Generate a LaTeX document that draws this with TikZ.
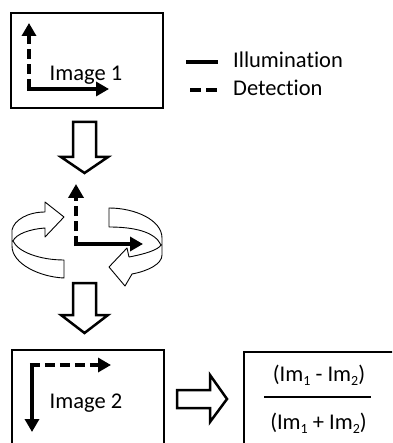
\documentclass[tikz,border=0pt]{standalone}
\usepackage{fontspec}
\setmainfont[Ligatures={NoCommon,NoDiscretionary,NoRare}]{Carlito}
\usetikzlibrary{arrows.meta}
\newcommand{\mysub}[1]{\raisebox{-4pt}{\fontsize{14}{14}\selectfont #1}}
\begin{document}
\begin{tikzpicture}[x=1pt,y=-1pt,
  box/.style={draw, line width=2pt, inner sep=0pt},
  blockarrow/.style={draw, line width=2.5pt, fill=white, line join=miter},
  ribbon/.style={draw, line width=0.9pt, fill=white, line join=round},
  illum/.style={line width=4.5pt, -{Triangle[length=13pt,width=14pt]}},
  detect/.style={line width=4.5pt, dash pattern=on 10pt off 5pt, -{Triangle[length=13pt,width=14pt]}},
  lbl/.style={font=\fontsize{22.5}{26}\selectfont, inner sep=0pt}
]
\useasboundingbox (0,0) rectangle (392,443);
\clip (0,0) rectangle (392,443);

% ---- Image 1 box ----
\node[box, minimum width=152pt, minimum height=95pt] (img1) at (87,60.5) {};
\node[lbl, anchor=base] (t1) at (86,81) {Image 1};
\coordinate (c1) at (29,89);
\coordinate (c1up) at (29,23);
\coordinate (c1rt) at (109,89);
\draw[detect] (c1) -- (c1up);
\draw[illum] ([xshift=-2.25pt]c1) -- (c1rt);

% ---- legend ----
\coordinate (l1a) at (186,62); \coordinate (l1b) at (218,62);
\coordinate (l2a) at (190,90); \coordinate (l2b) at (218,90);
\draw[line width=3.5pt] (l1a) -- (l1b);
\draw[line width=3.5pt, dash pattern=on 11pt off 5pt] (l2a) -- (l2b);
\node[lbl, anchor=base west] (lg1) at (233,68) {Illumination};
\node[lbl, anchor=base west] (lg2) at (233,96) {Detection};

% ---- block arrow 1 ----
\draw[blockarrow] (73,122) -- (96,122) -- (96,157) -- (108,157) -- (84.5,173) -- (61,157) -- (73,157) -- cycle;

% ---- rotation ribbons ----
\draw[ribbon] (64,278) .. controls (40,277) and (12,264) .. (12,246) -- (12,230)
  .. controls (14,220) and (28,212) .. (45,212) -- (45,202) -- (64,217) -- (45,237) -- (45,228)
  .. controls (30,229) and (16,234) .. (13,241)
  .. controls (18,252) and (40,260) .. (64,260) -- cycle;
\draw[ribbon] (109,227) -- (109,208) .. controls (135,208) and (162,220) .. (162,238) -- (162,255)
  .. controls (162,264) and (148,271) .. (132,274) -- (125,286) -- (109,267) -- (127,248) -- (129,257)
  .. controls (145,254) and (158,250) .. (161,245)
  .. controls (155,232) and (135,227) .. (109,227) -- cycle;

% ---- central axes ----
\coordinate (c0) at (76,246);
\coordinate (c0up) at (76,184);
\coordinate (c0rt) at (143,244);
\draw[detect, -{Triangle[length=14pt,width=15pt]}] (c0) -- (c0up);
\draw[illum] (73.75,244) -- (c0rt);

% ---- block arrow 2 ----
\draw[blockarrow] (73,283) -- (96,283) -- (96,315) -- (108,315) -- (84.5,333) -- (61,315) -- (73,315) -- cycle;

% ---- Image 2 box ----
\node[box, minimum width=152pt, minimum height=130pt, anchor=north west] (img2) at (11,349) {};
\node[lbl, anchor=base] (t2) at (86,408) {Image 2};
\coordinate (c2) at (32,365);
\coordinate (c2rt) at (111,365);
\coordinate (c2dn) at (32,432);
\draw[detect] ([xshift=-2.25pt]c2) -- (c2rt);
\draw[illum] ([yshift=-2.25pt]c2) -- (c2dn);

% ---- block arrow 3 ----
\draw[blockarrow] (177,390) -- (210,390) -- (210,375) -- (227,399) -- (210,422) -- (210,408) -- (177,408) -- cycle;

% ---- formula box ----
\node[box, minimum width=200pt, minimum height=130pt, anchor=north west] (fbox) at (243,351) {};
\node[lbl, anchor=base] (num) at (319,381) {(Im\mysub{1} - Im\mysub{2})};
\node[lbl, anchor=base] (den) at (318.5,429) {(Im\mysub{1} + Im\mysub{2})};
\coordinate (fl) at (264,397); \coordinate (fr) at (371,397);
\draw[line width=1.5pt] (fl) -- (fr);
\end{tikzpicture}
\end{document}
